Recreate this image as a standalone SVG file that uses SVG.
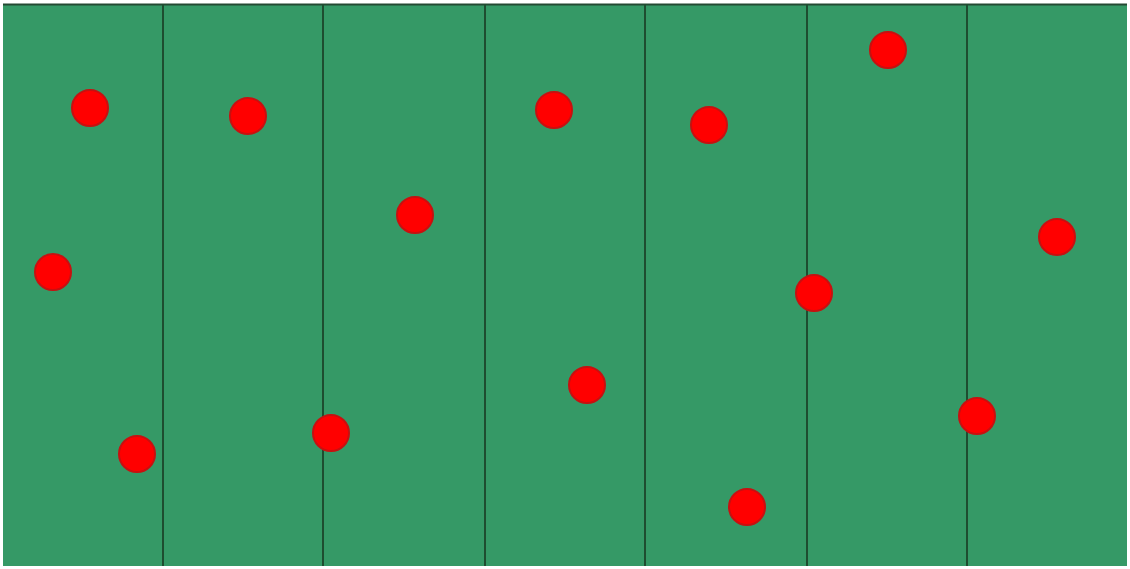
<svg xmlns="http://www.w3.org/2000/svg" width="1130" height="569" viewBox="0 0 1130 569">
<style>
.field{fill:#359966;}
.div{stroke:#1e4d30;stroke-width:2;}
.dot{fill:#ff0000;stroke:#c81010;stroke-width:2;}
</style>
<rect x="0" y="0" width="1130" height="569" fill="#ffffff"/>
<rect class="field" x="3" y="4" width="1124" height="562"/>
<line x1="3" y1="4.5" x2="1127" y2="4.5" stroke="#244a33" stroke-width="2"/>
<g id="dividers">
<line class="div" x1="163" y1="4" x2="163" y2="566"/>
<line class="div" x1="323" y1="4" x2="323" y2="566"/>
<line class="div" x1="485" y1="4" x2="485" y2="566"/>
<line class="div" x1="645" y1="4" x2="645" y2="566"/>
<line class="div" x1="807" y1="4" x2="807" y2="566"/>
<line class="div" x1="967" y1="4" x2="967" y2="566"/>
</g>
<g id="dots">
<circle class="dot" cx="90" cy="108" r="18"/>
<circle class="dot" cx="248" cy="116" r="18"/>
<circle class="dot" cx="554" cy="110" r="18"/>
<circle class="dot" cx="709" cy="125" r="18"/>
<circle class="dot" cx="888" cy="50" r="18"/>
<circle class="dot" cx="415" cy="215" r="18"/>
<circle class="dot" cx="53" cy="272" r="18"/>
<circle class="dot" cx="1057" cy="237" r="18"/>
<circle class="dot" cx="814" cy="293" r="18"/>
<circle class="dot" cx="587" cy="385" r="18"/>
<circle class="dot" cx="331" cy="433" r="18"/>
<circle class="dot" cx="137" cy="454" r="18"/>
<circle class="dot" cx="977" cy="416" r="18"/>
<circle class="dot" cx="747" cy="507" r="18"/>
</g>
</svg>
